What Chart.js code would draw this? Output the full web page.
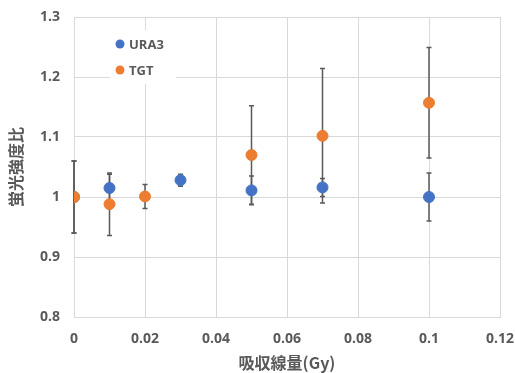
<!DOCTYPE html>
<html lang="ja">
<head>
    <meta charset="UTF-8">
    <title>蛍光強度比</title>
    <script src="https://cdn.jsdelivr.net/npm/chart.js"></script>
    <style>
        html, body { margin: 0; padding: 0; background: #fff; }
        #wrap { width: 515px; height: 373px; }
    </style>
</head>
<body>
<div id="wrap"><canvas id="myChart"></canvas></div>
<script>
    // 吸収線量 (Gy)
    const doseURA3 = [0, 0.01, 0.03, 0.05, 0.07, 0.1];
    const ura3 = [1.0, 1.015, 1.028, 1.011, 1.016, 1.0];
    const ura3Err = [0.06, 0.023, 0.01, 0.024, 0.015, 0.04];

    const doseTGT = [0, 0.01, 0.02, 0.05, 0.07, 0.1];
    const tgt = [1.0, 0.988, 1.001, 1.070, 1.102, 1.157];
    const tgtErr = [0.06, 0.052, 0.02, 0.082, 0.112, 0.092];

    const xTicks = [0, 0.02, 0.04, 0.06, 0.08, 0.1, 0.12];
    const yTicks = [0.8, 0.9, 1, 1.1, 1.2, 1.3];

    const azul = '#4472C4';
    const naranja = '#ED7D31';
    const cinza = '#595959';

    function pontos(xs, ys) {
        return xs.map((x, i) => ({ x: x, y: ys[i] }));
    }

    // barras de erro desenhadas com as escalas do grafico
    const barrasErro = {
        id: 'barrasErro',
        beforeDatasetsDraw(chart) {
            const ctx = chart.ctx;
            const sx = chart.scales.x;
            const sy = chart.scales.y;
            const series = [[doseURA3, ura3, ura3Err], [doseTGT, tgt, tgtErr]];
            ctx.save();
            ctx.strokeStyle = '#595959';
            ctx.lineWidth = 1.5;
            series.forEach(([xs, ys, es]) => {
                xs.forEach((x, i) => {
                    const px = sx.getPixelForValue(x);
                    const top = sy.getPixelForValue(ys[i] + es[i]);
                    const bot = sy.getPixelForValue(ys[i] - es[i]);
                    ctx.beginPath();
                    ctx.moveTo(px, top);
                    ctx.lineTo(px, bot);
                    ctx.moveTo(px - 2.5, top);
                    ctx.lineTo(px + 2.5, top);
                    ctx.moveTo(px - 2.5, bot);
                    ctx.lineTo(px + 2.5, bot);
                    ctx.stroke();
                });
            });
            ctx.restore();
        }
    };

    // legenda dentro da area do grafico
    const legendaDentro = {
        id: 'legendaDentro',
        afterDraw(chart) {
            const ctx = chart.ctx;
            const itens = [['URA3', azul], ['TGT', naranja]];
            ctx.save();
            ctx.fillStyle = '#fff';
            ctx.fillRect(110, 30, 66, 54);
            ctx.font = 'bold 13px "Open Sans", "Noto Sans", sans-serif';
            ctx.textBaseline = 'middle';
            itens.forEach(([nome, cor], i) => {
                const y = 44 + i * 26;
                ctx.fillStyle = cor;
                ctx.beginPath();
                ctx.arc(120, y, 4.5, 0, Math.PI * 2);
                ctx.fill();
                ctx.fillStyle = cinza;
                ctx.fillText(nome, 129, y + 1);
            });
            ctx.restore();
        }
    };

    const fonteTick = { family: '"Open Sans", "Noto Sans", sans-serif', size: 14, weight: 'bold' };
    const fonteTitulo = { family: '"Noto Sans CJK JP", "Open Sans", sans-serif', size: 16, weight: 'bold' };

    const config = {
        type: 'scatter',
        data: {
            datasets: [{
                label: 'URA3',
                data: pontos(doseURA3, ura3),
                backgroundColor: azul,
                borderColor: azul,
                pointRadius: 5.5,
                pointHoverRadius: 5.5,
                order: 1
            }, {
                label: 'TGT',
                data: pontos(doseTGT, tgt),
                backgroundColor: naranja,
                borderColor: naranja,
                pointRadius: 5.5,
                pointHoverRadius: 5.5,
                order: 0
            }]
        },
        options: {
            responsive: true,
            maintainAspectRatio: false,
            animation: false,
            layout: { padding: { top: 17, right: 15, left: 0, bottom: 0 } },
            plugins: {
                legend: { display: false },
                tooltip: { enabled: false }
            },
            scales: {
                x: {
                    type: 'linear',
                    min: 0,
                    max: 0.12,
                    afterBuildTicks: (axis) => { axis.ticks = xTicks.map(v => ({ value: v })); },
                    afterFit: (axis) => {
                        axis.height = 56;
                        axis.paddingLeft = 0;
                        axis.paddingRight = 0;
                    },
                    grid: { color: '#d9d9d9', drawTicks: false },
                    border: { color: '#d9d9d9' },
                    ticks: {
                        color: cinza,
                        font: fonteTick,
                        padding: 14,
                        maxRotation: 0,
                        callback: (v) => String(Math.round(v * 100) / 100)
                    },
                    title: {
                        display: true,
                        text: '吸収線量(Gy)',
                        color: cinza,
                        font: fonteTitulo,
                        padding: { top: 2, bottom: 0 }
                    }
                },
                y: {
                    min: 0.8,
                    max: 1.3,
                    afterBuildTicks: (axis) => { axis.ticks = yTicks.map(v => ({ value: v })); },
                    afterFit: (axis) => {
                        axis.width = 74;
                        axis.paddingTop = 0;
                        axis.paddingBottom = 0;
                    },
                    grid: { color: '#d9d9d9', drawTicks: false },
                    border: { color: '#d9d9d9' },
                    ticks: {
                        color: cinza,
                        font: fonteTick,
                        padding: 14,
                        callback: (v) => String(Math.round(v * 10) / 10)
                    },
                    title: {
                        display: true,
                        text: '蛍光強度比',
                        color: cinza,
                        font: fonteTitulo,
                        padding: { top: 6, bottom: 0 }
                    }
                }
            }
        },
        plugins: [barrasErro, legendaDentro]
    };

    const myChart = new Chart(document.getElementById('myChart'), config);
</script>
</body>
</html>
